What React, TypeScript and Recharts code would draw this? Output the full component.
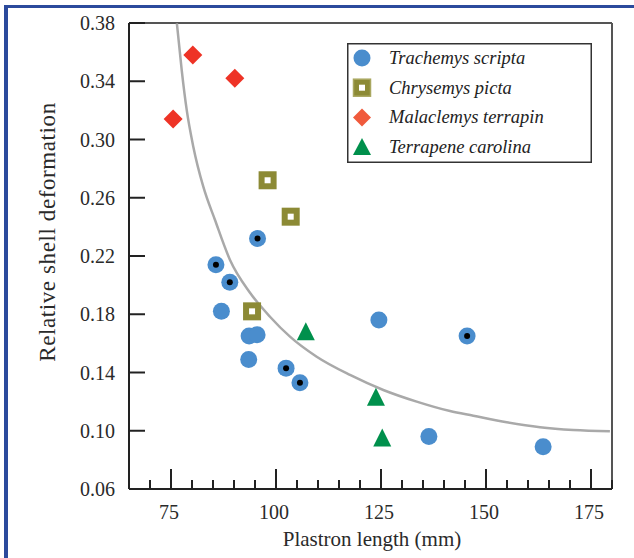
import React from "react";
import { ComposedChart, Scatter, Line, XAxis, YAxis, ReferenceLine, Legend } from "recharts";

const trachemys = [
  { x: 95.6, y: 0.232, marked: true },
  { x: 85.7, y: 0.214, marked: true },
  { x: 89.0, y: 0.202, marked: true },
  { x: 87.0, y: 0.182, marked: false },
  { x: 93.6, y: 0.165, marked: false },
  { x: 95.5, y: 0.166, marked: false },
  { x: 93.5, y: 0.149, marked: false },
  { x: 102.4, y: 0.143, marked: true },
  { x: 105.7, y: 0.133, marked: true },
  { x: 124.5, y: 0.176, marked: false },
  { x: 145.5, y: 0.165, marked: true },
  { x: 136.4, y: 0.096, marked: false },
  { x: 163.6, y: 0.089, marked: false },
];

const chrysemys = [
  { x: 98.0, y: 0.272 },
  { x: 103.5, y: 0.247 },
  { x: 94.3, y: 0.182 },
];

const malaclemys = [
  { x: 80.2, y: 0.358 },
  { x: 90.2, y: 0.342 },
  { x: 75.5, y: 0.314 },
];

const terrapene = [
  { x: 107.1, y: 0.168 },
  { x: 123.8, y: 0.123 },
  { x: 125.3, y: 0.095 },
];

// fitted curve
const fitCurve = [
  { x: 76.4, y: 0.3798 },
  { x: 77.55, y: 0.3477 },
  { x: 78.74, y: 0.3203 },
  { x: 80.31, y: 0.2951 },
  { x: 82.69, y: 0.2676 },
  { x: 85.48, y: 0.2447 },
  { x: 89.05, y: 0.2173 },
  { x: 93.81, y: 0.1948 },
  { x: 98.57, y: 0.1783 },
  { x: 103.33, y: 0.1646 },
  { x: 109.69, y: 0.1508 },
  { x: 117.62, y: 0.1383 },
  { x: 125.55, y: 0.128 },
  { x: 133.5, y: 0.12 },
  { x: 141.43, y: 0.1135 },
  { x: 146.98, y: 0.1103 },
  { x: 154.93, y: 0.1058 },
  { x: 162.86, y: 0.1024 },
  { x: 170.79, y: 0.1005 },
  { x: 179.5, y: 0.0996 },
];

const xTicks = [70, 75, 80, 85, 90, 95, 100, 105, 110, 115, 120, 125, 130, 135, 140, 145, 150, 155, 160, 165, 170, 175, 180];
const xLabelled = [75, 100, 125, 150, 175];
const yTicks = [0.06, 0.1, 0.14, 0.18, 0.22, 0.26, 0.3, 0.34, 0.38];

const species = ["Trachemys scripta", "Chrysemys picta", "Malaclemys terrapin", "Terrapene carolina"];

const BLUE = "#4a8dcd";
const OLIVE = "#8c8a35";
const RED = "#ee3326";
const GREEN = "#00904c";
const FONT = "'Liberation Serif', 'Times New Roman', serif";

const circleShape = (p: any) => (
  <g>
    <circle cx={p.cx} cy={p.cy} r={8.5} fill={BLUE} />
    {p.payload && p.payload.marked ? <circle cx={p.cx} cy={p.cy} r={3} fill="#000" /> : null}
  </g>
);

const squareShape = (p: any) => (
  <g>
    <rect x={p.cx - 9} y={p.cy - 9} width={18} height={18} fill={OLIVE} />
    <rect x={p.cx - 3} y={p.cy - 3} width={6} height={6} fill="#fff" />
  </g>
);

const diamondShape = (p: any) => (
  <polygon
    points={`${p.cx},${p.cy - 9.5} ${p.cx + 9.5},${p.cy} ${p.cx},${p.cy + 9.5} ${p.cx - 9.5},${p.cy}`}
    fill={RED}
  />
);

const triangleShape = (p: any) => (
  <polygon
    points={`${p.cx},${p.cy - 9.5} ${p.cx + 9},${p.cy + 8.5} ${p.cx - 9},${p.cy + 8.5}`}
    fill={GREEN}
  />
);

const XTick = (props: any) => {
  const { x, y, payload } = props;
  const major = xLabelled.includes(payload.value);
  return (
    <g>
      <line x1={x} x2={x} y1={y} y2={y - (major ? 20 : 9)} stroke="#222" strokeWidth={2} />
      {major ? (
        <text x={x - 2} y={y + 30} textAnchor="middle" fontFamily={FONT} fontSize={20} fill="#2a2a2a">
          {payload.value}
        </text>
      ) : null}
    </g>
  );
};

const YTick = (props: any) => {
  const { x, y, payload } = props;
  return (
    <g>
      <line x1={x} x2={x + 16} y1={y} y2={y} stroke="#222" strokeWidth={2} />
      <text x={x - 14} y={y + 7} textAnchor="end" fontFamily={FONT} fontSize={20} fill="#2a2a2a">
        {payload.value.toFixed(2)}
      </text>
    </g>
  );
};

const legendMarker = (i: number) => {
  const cx = 15;
  const cy = 15 + i * 29.7;
  if (i === 0) return <circle cx={cx} cy={cy} r={8.5} fill={BLUE} />;
  if (i === 1)
    return (
      <g>
        <rect x={cx - 8.5} y={cy - 8.5} width={17} height={17} fill={OLIVE} stroke="#a9a760" strokeWidth={1.5} />
        <rect x={cx - 3} y={cy - 3} width={6} height={6} fill="#fff" />
      </g>
    );
  if (i === 2)
    return (
      <polygon
        points={`${cx},${cy - 9} ${cx + 9},${cy} ${cx},${cy + 9} ${cx - 9},${cy}`}
        fill="#f05a3c"
      />
    );
  return <polygon points={`${cx},${cy - 9} ${cx + 9},${cy + 8} ${cx - 9},${cy + 8}`} fill={GREEN} />;
};

const LegendBox = () => (
  <svg width={245} height={120} style={{ display: "block" }}>
    <rect x={0.75} y={0.75} width={243.5} height={118.5} fill="#fff" stroke="#333" strokeWidth={1.5} />
    {species.map((name, i) => (
      <g key={name}>
        {legendMarker(i)}
        <text
          x={42}
          y={15 + i * 29.7 + 6}
          fontFamily={FONT}
          fontStyle="italic"
          fontSize={18.5}
          fill="#222"
        >
          {name}
        </text>
      </g>
    ))}
  </svg>
);

export default function App() {
  return (
    <div style={{ position: "absolute", left: 0, top: 0, width: 634, height: 558, background: "#fff" }}>
      <div
        style={{
          position: "absolute",
          left: 4,
          top: 5,
          width: 630,
          height: 553,
          borderTop: "3.5px solid #2b4a9c",
          borderLeft: "4px solid #2b4a9c",
          boxSizing: "border-box",
        }}
      />
      <ComposedChart
        width={634}
        height={558}
        margin={{ top: 23, right: 22, left: 0, bottom: 0 }}
        style={{ position: "absolute", left: 0, top: 0 }}
      >
        <XAxis
          dataKey="x"
          type="number"
          domain={[65, 180]}
          ticks={xTicks}
          interval={0}
          height={69}
          tickSize={0}
          tickMargin={0}
          axisLine={{ stroke: "#222", strokeWidth: 2 }}
          tick={XTick}
          allowDataOverflow
        />
        <YAxis
          dataKey="y"
          type="number"
          domain={[0.06, 0.38]}
          ticks={yTicks}
          interval={0}
          width={129}
          tickSize={0}
          tickMargin={0}
          axisLine={{ stroke: "#222", strokeWidth: 2 }}
          tick={YTick}
          allowDataOverflow
        />
        <ReferenceLine y={0.38} stroke="#555" strokeWidth={2} />
        <ReferenceLine x={180} stroke="#555" strokeWidth={2} />
        <Line
          data={fitCurve}
          dataKey="y"
          type="monotone"
          stroke="#a9a9a9"
          strokeWidth={2.5}
          dot={false}
          activeDot={false}
          legendType="none"
          isAnimationActive={false}
        />
        <Scatter name={species[0]} data={trachemys} shape={circleShape} isAnimationActive={false} />
        <Scatter name={species[1]} data={chrysemys} shape={squareShape} isAnimationActive={false} />
        <Scatter name={species[2]} data={malaclemys} shape={diamondShape} isAnimationActive={false} />
        <Scatter name={species[3]} data={terrapene} shape={triangleShape} isAnimationActive={false} />
        <Legend
          layout="vertical"
          align="center"
          verticalAlign="middle"
          content={() => <LegendBox />}
          wrapperStyle={{ left: 347, top: 43, width: 245, height: 120 }}
        />
      </ComposedChart>
      <div
        style={{
          position: "absolute",
          left: 0,
          top: 527,
          width: 744,
          textAlign: "center",
          fontFamily: FONT,
          fontSize: 21,
          color: "#2a2a2a",
        }}
      >
        Plastron length (mm)
      </div>
      <div
        style={{
          position: "absolute",
          left: 48,
          top: 232,
          transform: "translate(-50%, -50%) rotate(-90deg)",
          whiteSpace: "nowrap",
          fontFamily: FONT,
          fontSize: 23,
          letterSpacing: 0.6,
          color: "#2a2a2a",
        }}
      >
        Relative shell deformation
      </div>
    </div>
  );
}
